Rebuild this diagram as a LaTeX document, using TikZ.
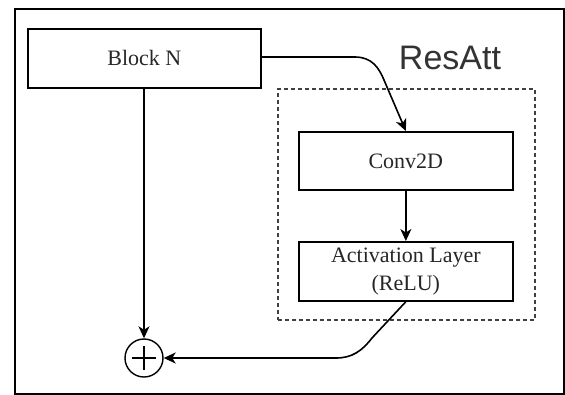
\documentclass[tikz,border=0pt]{standalone}
\usepackage{fontspec}
\setmainfont{Liberation Serif}
\newfontfamily\sansf{Liberation Sans}
\usetikzlibrary{arrows.meta}
\begin{document}
\begin{tikzpicture}[x=1pt,y=-1pt,
  box/.style={draw, line width=1.7pt, inner sep=0pt, anchor=north west, align=center,
    text=black!85, font=\fontsize{22}{28}\selectfont},
  grp/.style={draw=black!75, line width=1.6pt, dash pattern=on 4pt off 3pt, inner sep=0pt, anchor=north west},
  arr/.style={line width=1.6pt, -{Stealth[length=12pt,width=11pt,inset=3.5pt]}}
]
\useasboundingbox (0,0) rectangle (565,394);
\node[draw, line width=1.7pt, inner sep=0pt, anchor=north west, minimum width=549pt, minimum height=385pt] (frame) at (14,8) {};
\node[grp, minimum width=257pt, minimum height=231pt] (group) at (277,88) {};
\node[box, minimum width=233pt, minimum height=59pt] (blockn) at (27,28) {Block N};
\node[box, minimum width=214pt, minimum height=58pt] (conv) at (298,131) {Conv2D};
\node[box, minimum width=214pt, minimum height=59pt] (act) at (298,241) {Activation Layer\\(ReLU)};
\node[text=black!80, font=\sansf\fontsize{34}{34}\selectfont, inner sep=0pt] (title) at (450,58) {ResAtt};
\node[draw, circle, line width=1.4pt, minimum size=38pt, inner sep=0pt] (plus) at (144,358) {};
\draw[line width=2.6pt] (plus.center) ++(-12,0) -- ++(24,0);
\draw[line width=2.6pt] (plus.center) ++(0,-12) -- ++(0,24);
\coordinate (c1) at (355,57);
\coordinate (c2) at (384,80);
\draw[arr] (blockn.east |- 0,57) -- (c1) .. controls (372,57) and (379,68) .. (c2) -- (conv.north);
\draw[arr] (conv.south) -- (act.north);
\draw[arr] (blockn.south -| plus.north) -- (plus.north);
\coordinate (d1) at (372,338);
\coordinate (d2) at (336,358);
\draw[arr] (act.south) -- (d1) .. controls (362,351) and (352,358) .. (d2) -- (plus.east);
\end{tikzpicture}
\end{document}
